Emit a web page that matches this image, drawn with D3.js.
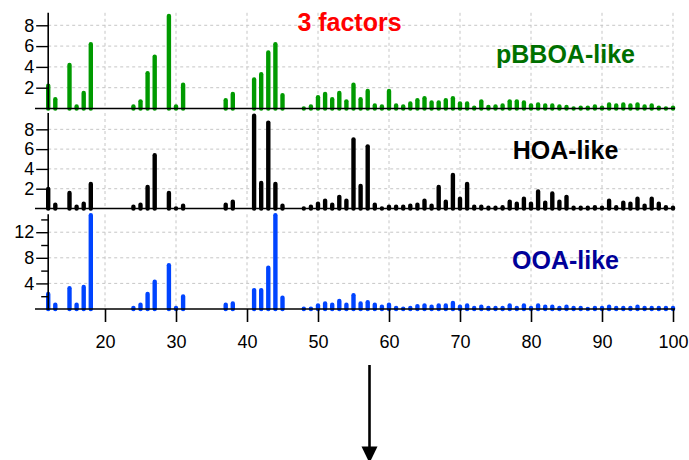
<!DOCTYPE html>
<html>
<head>
<meta charset="utf-8">
<script src="https://d3js.org/d3.v7.min.js"></script>
<style>
  html, body { margin: 0; padding: 0; background: #fff; }
  svg { display: block; font-family: "Liberation Sans", Arial, sans-serif; }
</style>
</head>
<body>
<svg id="chart" width="689" height="460"></svg>
<script>
// m/z values (x categories)
const mz = [12,13,15,16,17,18,24,25,26,27,29,30,31,37,38,41,42,43,44,45,
  48,49,50,51,52,53,54,55,56,57,58,59,60,61,62,63,64,65,66,67,68,69,70,71,72,73,74,75,76,77,
  78,79,80,81,82,83,84,85,86,87,88,89,90,91,92,93,94,95,96,97,98,99,100];

const pbboa = [2.4,1.1,4.4,0.4,1.7,6.4,0.4,0.9,3.6,5.2,9.1,0.4,2.5,1.0,1.6,3.0,3.5,5.6,6.4,1.5,
  0.2,0.4,1.3,1.6,1.1,1.7,0.9,2.5,1.1,1.9,
  0.5,0.4,1.9,0.5,0.4,0.7,1.0,1.2,0.8,0.8,
  1.0,1.2,0.7,0.7,0.3,0.9,0.35,0.4,0.5,0.9,
  0.9,0.8,0.5,0.6,0.5,0.5,0.4,0.35,0.2,0.3,
  0.3,0.4,0.3,0.6,0.5,0.6,0.5,0.6,0.4,0.5,
  0.3,0.2,0.3];

const hoa = [2.2,0.6,1.8,0.4,0.7,2.7,0.4,0.6,2.4,5.6,1.8,0.2,0.5,0.6,0.9,9.6,2.8,8.9,2.7,0.5,
  0.2,0.4,0.7,1.0,0.6,1.4,1.0,7.2,2.5,6.5,
  0.6,0.2,0.4,0.4,0.4,0.5,0.6,1.0,0.5,2.4,
  0.9,3.6,1.2,2.7,0.4,0.4,0.3,0.3,0.35,0.9,
  0.7,1.2,0.7,1.95,0.8,1.75,0.9,1.4,0.3,0.3,
  0.3,0.35,0.3,1.0,0.35,0.8,0.7,1.2,0.5,1.2,
  0.7,0.35,0.3];

const ooa = [2.7,1.0,3.6,1.0,3.8,15.0,0.5,1.0,2.7,4.6,7.2,0.5,2.3,1.0,1.2,3.3,3.3,6.8,15.0,2.1,
  0.4,0.4,0.9,1.2,1.0,1.6,1.0,2.5,1.2,1.4,
  1.0,0.7,1.0,0.5,0.4,0.5,0.8,0.9,0.7,0.9,
  0.9,1.3,0.7,0.9,0.5,0.7,0.5,0.5,0.5,0.9,
  0.5,0.9,0.5,0.9,0.7,0.7,0.5,0.7,0.5,0.5,
  0.3,0.5,0.5,0.7,0.5,0.5,0.5,0.7,0.5,0.5,
  0.5,0.5,0.5];

const xTicks = [20,30,40,50,60,70,80,90,100];
const topTicks = [2,4,6,8];
const midTicks = [2,4,6,8];
const botTicks = [4,8,12];
const botMinor = [2,6,10,14];

const title = "3 factors";
const names = ["pBBOA-like","HOA-like","OOA-like"];

const svg = d3.select("#chart");
const x = d3.scaleLinear().domain([12,100]).range([48.2,673]);

const panels = [
  {vals: pbboa, ymax: 9.2, r0: 108.5, r1: 12.8, ticks: topTicks, minor: [], color: "#009a00", name: names[0], ncolor: "#007000", nbase: 63.3},
  {vals: hoa, ymax: 9.65, r0: 208.5, r1: 113, ticks: midTicks, minor: [], color: "#000000", name: names[1], ncolor: "#000000", nbase: 159.3},
  {vals: ooa, ymax: 14.8, r0: 309, r1: 214.3, ticks: botTicks, minor: botMinor, color: "#0044ff", name: names[2], ncolor: "#000099", nbase: 269}
];

const sw = 4.4;

panels.forEach((p, i) => {
  const y = d3.scaleLinear().domain([0, p.ymax]).range([p.r0, p.r1]);
  const g = svg.append("g");
  // grid
  g.selectAll(".vg").data(xTicks).join("line")
    .attr("x1", d => x(d)).attr("x2", d => x(d))
    .attr("y1", p.r1).attr("y2", p.r0)
    .attr("stroke", "#c6c6c6").attr("stroke-width", 1).attr("stroke-dasharray", "3,3");
  g.selectAll(".hg").data(p.ticks).join("line")
    .attr("x1", x(12)).attr("x2", x(100))
    .attr("y1", d => y(d)).attr("y2", d => y(d))
    .attr("stroke", "#c6c6c6").attr("stroke-width", 1).attr("stroke-dasharray", "3,3");

  // bars
  g.selectAll(".bar").data(mz.map((m, j) => ({m, v: p.vals[j]}))).join("line")
    .attr("x1", d => x(d.m)).attr("x2", d => x(d.m))
    .attr("y1", y(0))
    .attr("y2", d => Math.min(y(0), y(d.v) + sw / 2))
    .attr("stroke", p.color).attr("stroke-width", sw).attr("stroke-linecap", "round");

  // baseline
  g.append("line").attr("x1", 35).attr("x2", 675)
    .attr("y1", y(0)).attr("y2", y(0))
    .attr("stroke", "#000").attr("stroke-width", 1.6);

  // y axis
  const ax = d3.axisLeft(y).tickValues(p.ticks).tickSize(12).tickPadding(2).tickFormat(d3.format("d"));
  const ag = g.append("g").attr("transform", `translate(${x(12)},0)`).call(ax);
  ag.select(".domain").remove();
  ag.selectAll(".tick line").attr("stroke", "#000").attr("stroke-width", 1.4);
  ag.selectAll("text").attr("font-size", 18).attr("fill", "#000")
    .attr("font-family", "Liberation Sans, Arial, sans-serif");
  if (p.minor.length) {
    const am = d3.axisLeft(y).tickValues(p.minor).tickSize(7).tickFormat("");
    const mg = g.append("g").attr("transform", `translate(${x(12)},0)`).call(am);
    mg.select(".domain").remove();
    mg.selectAll(".tick line").attr("stroke", "#000").attr("stroke-width", 1.4);
  }
  g.append("line").attr("x1", x(12)).attr("x2", x(12))
    .attr("y1", p.r1).attr("y2", y(0) + 1)
    .attr("stroke", "#000").attr("stroke-width", 1.6);

  // factor name
  g.append("text").attr("x", 565.5).attr("y", p.nbase)
    .attr("text-anchor", "middle").attr("font-size", 25).attr("font-weight", "bold")
    .attr("fill", p.ncolor).text(p.name);

  if (i === 2) {
    const xa = d3.axisBottom(x).tickValues(xTicks).tickSize(13).tickPadding(13).tickFormat(d3.format("d"));
    const xg = g.append("g").attr("transform", `translate(0,${y(0)})`).call(xa);
    xg.select(".domain").remove();
    xg.selectAll(".tick line").attr("stroke", "#000").attr("stroke-width", 1.6);
    xg.selectAll("text").attr("font-size", 18).attr("fill", "#000")
      .attr("font-family", "Liberation Sans, Arial, sans-serif");
  }
});

// title
svg.append("text").attr("x", 349.5).attr("y", 31)
  .attr("text-anchor", "middle").attr("font-size", 25).attr("font-weight", "bold")
  .attr("fill", "#ff0000").text(title);

// arrow
svg.append("line").attr("x1", 369.5).attr("x2", 369.5).attr("y1", 365).attr("y2", 448)
  .attr("stroke", "#000").attr("stroke-width", 2.6);
svg.append("path").attr("d", "M361.5,446.5 L377.5,446.5 L369.5,463 Z").attr("fill", "#000");
</script>
</body>
</html>
